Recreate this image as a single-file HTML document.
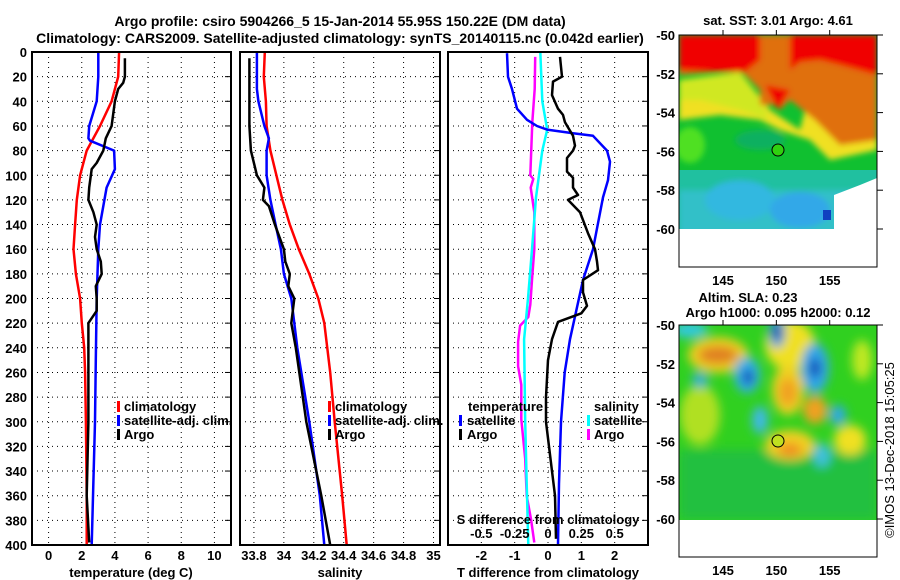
<!DOCTYPE html>
<html><head><meta charset="utf-8"><style>
body{margin:0;background:#fff;}
svg{display:block;font-family:"Liberation Sans",sans-serif;font-weight:bold;}
text{font-size:13px;fill:#000;}
</style></head><body>
<svg id="c" width="900" height="580" viewBox="0 0 900 580">
<defs>
<filter id="bl" x="-20%" y="-20%" width="140%" height="140%"><feGaussianBlur stdDeviation="3"/></filter>
<filter id="bl2" x="-30%" y="-30%" width="160%" height="160%"><feGaussianBlur stdDeviation="5"/></filter>
<clipPath id="cm1"><rect x="679" y="35" width="198" height="194"/></clipPath>
<clipPath id="cm2"><rect x="679" y="325" width="198" height="195"/></clipPath>
</defs>
<text x="340" y="26" text-anchor="middle" style="font-size:14px">Argo profile: csiro 5904266_5 15-Jan-2014 55.95S 150.22E (DM data)</text>
<text x="340" y="43" text-anchor="middle" style="font-size:14px">Climatology: CARS2009. Satellite-adjusted climatology: synTS_20140115.nc (0.042d earlier)</text>
<g id="grid"></g>
<g id="lines"></g>
<g id="frames"></g>
<g id="labels"></g>

<g>
<rect x="117" y="401" width="3" height="11" fill="#f00"/><text x="124" y="411">climatology</text>
<rect x="117" y="415" width="3" height="11" fill="#00f"/><text x="124" y="425">satellite-adj. clim.</text>
<rect x="117" y="429" width="3" height="11" fill="#000"/><text x="124" y="439">Argo</text>
</g>
<g>
<rect x="328" y="401" width="3" height="11" fill="#f00"/><text x="335" y="411">climatology</text>
<rect x="328" y="415" width="3" height="11" fill="#00f"/><text x="335" y="425">satellite-adj. clim.</text>
<rect x="328" y="429" width="3" height="11" fill="#000"/><text x="335" y="439">Argo</text>
</g>
<g>
<text x="468" y="411">temperature</text>
<rect x="459" y="415" width="3" height="11" fill="#00f"/><text x="467" y="425">satellite</text>
<rect x="459" y="429" width="3" height="11" fill="#000"/><text x="467" y="439">Argo</text>
<text x="594" y="411">salinity</text>
<rect x="587" y="415" width="3" height="11" fill="#0ff"/><text x="594" y="425">satellite</text>
<rect x="587" y="429" width="3" height="11" fill="#f0f"/><text x="594" y="439">Argo</text>
</g>

<g>
<text x="778" y="25" text-anchor="middle">sat. SST: 3.01 Argo: 4.61</text>
<g clip-path="url(#cm1)">
<rect x="679" y="35" width="198" height="194" fill="#10c030"/>
<rect x="679" y="170" width="198" height="65" fill="#20c0a0"/>
<g filter="url(#bl)">
<rect x="679" y="190" width="198" height="45" fill="#30c0c8"/>
<ellipse cx="740" cy="200" rx="35" ry="20" fill="#30b8e0"/>
<ellipse cx="800" cy="210" rx="30" ry="18" fill="#30a8e8"/>
<polygon points="679,80 740,72 770,110 800,130 812,80 877,85 877,150 830,160 810,140 780,130 760,120 720,115 679,120" fill="#f0e020"/>
<polygon points="679,80 740,72 760,100 770,120 740,110 700,100 679,100" fill="#d0e820"/>
<polygon points="679,35 877,35 877,140 840,145 815,120 790,100 780,110 765,95 740,70 679,75" fill="#e07010"/>
<polygon points="679,35 760,35 760,60 745,72 715,72 679,70" fill="#f00000"/>
<polygon points="790,35 877,35 877,75 840,65 820,60 800,62 790,70" fill="#f00000"/>
<rect x="760" y="35" width="25" height="70" fill="#e07010"/>
<polygon points="765,85 790,90 778,110" fill="#f00000"/>
<ellipse cx="690" cy="145" rx="15" ry="18" fill="#50e020"/>
<ellipse cx="760" cy="140" rx="25" ry="10" fill="#10b060"/>
</g>
<polygon points="834,229 834,195 860,185 877,178 877,229" fill="#fff"/>
<rect x="823" y="210" width="8" height="10" fill="#1040c0"/>
</g>
<rect x="679" y="229" width="198" height="38" fill="#fff"/>
<rect x="679" y="35" width="198" height="232" fill="none" stroke="#000" stroke-width="1"/>
<circle cx="778" cy="150" r="6" fill="#30d010" stroke="#000" stroke-width="1"/>
</g>

<g>
<text x="748" y="302" text-anchor="middle">Altim. SLA: 0.23</text>
<text x="778" y="317" text-anchor="middle">Argo h1000: 0.095 h2000: 0.12</text>
<g clip-path="url(#cm2)">
<rect x="679" y="325" width="198" height="195" fill="#30d020"/>
<g filter="url(#bl2)">
<rect x="679" y="450" width="198" height="70" fill="#20c040"/>
<ellipse cx="718" cy="355" rx="30" ry="18" fill="#f0d020"/>
<ellipse cx="718" cy="355" rx="20" ry="9" fill="#e08020"/>
<ellipse cx="790" cy="345" rx="25" ry="25" fill="#f0e020"/>
<ellipse cx="788" cy="390" rx="16" ry="25" fill="#f0d020"/>
<ellipse cx="788" cy="392" rx="9" ry="14" fill="#f0a020"/>
<ellipse cx="790" cy="445" rx="25" ry="15" fill="#f0d020"/>
<ellipse cx="790" cy="450" rx="12" ry="7" fill="#f09020"/>
<ellipse cx="815" cy="410" rx="12" ry="14" fill="#f0a020"/>
<ellipse cx="850" cy="440" rx="16" ry="15" fill="#f0e020"/>
<ellipse cx="862" cy="360" rx="10" ry="20" fill="#c0e820"/>
<ellipse cx="700" cy="415" rx="20" ry="30" fill="#b0e020"/>
<ellipse cx="690" cy="330" rx="18" ry="8" fill="#30c8e0"/>
<ellipse cx="747" cy="375" rx="13" ry="18" fill="#30b0e8"/>
<ellipse cx="748" cy="377" rx="5" ry="8" fill="#1030b0"/>
<ellipse cx="777" cy="332" rx="8" ry="16" fill="#30a0e8"/>
<ellipse cx="777" cy="332" rx="4" ry="8" fill="#102090"/>
<ellipse cx="815" cy="368" rx="14" ry="25" fill="#30a8e8"/>
<ellipse cx="815" cy="368" rx="5" ry="10" fill="#1030b0"/>
<ellipse cx="838" cy="415" rx="8" ry="10" fill="#30a8e8"/>
<ellipse cx="760" cy="420" rx="8" ry="14" fill="#40b8e8"/>
<ellipse cx="822" cy="455" rx="8" ry="12" fill="#40c0e0"/>
<ellipse cx="700" cy="380" rx="8" ry="8" fill="#30b0d0"/>
</g>
</g>
<rect x="679" y="520" width="198" height="37" fill="#fff"/>
<rect x="679" y="325" width="198" height="232" fill="none" stroke="#000" stroke-width="1"/>
<circle cx="778" cy="441" r="6" fill="#c0e020" stroke="#000" stroke-width="1"/>
</g>
<text transform="translate(894,450) rotate(-90)" text-anchor="middle" style="font-weight:normal;font-size:13px">©IMOS 13-Dec-2018 15:05:25</text>
<g id="maplabels"></g>
</svg>
<script>
var depthTicks=[0,20,40,60,80,100,120,140,160,180,200,220,240,260,280,300,320,340,360,380,400];
var tempTicks=[0,2,4,6,8,10];
var salTicks=[33.8,34,34.2,34.4,34.6,34.8,35];
var salTickLabels=["33.8","34","34.2","34.4","34.6","34.8","35"];
var tdiffTicks=[-2,-1,0,1,2];
var sdiffTicks=[-0.5,-0.25,0,0.25,0.5];
var latTicks=[-50,-52,-54,-56,-58,-60];
var lonTicks=[145,150,155];

var tempClimDepth=[0,20,40,60,80,100,120,140,160,180,200,220,240,260,300,360,400];
var tempClim=[4.25,4.2,3.8,3.1,2.3,1.9,1.7,1.6,1.5,1.65,1.9,2.0,2.15,2.2,2.25,2.3,2.3];
var tempSatDepth=[0,20,40,60,70,72,80,95,110,140,160,200,250,300,400];
var tempSat=[3.0,3.0,2.9,2.45,2.4,2.5,3.95,4.0,3.5,3.1,3.0,2.9,2.85,2.8,2.6];
var tempArgoDepth=[5,20,25,30,40,60,70,80,90,95,110,120,130,140,150,160,170,180,190,200,210,220,240,300,360,398];
var tempArgo=[4.6,4.6,4.5,4.2,4.0,3.8,3.45,3.3,2.9,2.6,2.45,2.4,2.7,2.9,2.8,2.9,3.15,3.2,2.85,2.9,2.9,2.4,2.4,2.4,2.3,2.45];

var salClimDepth=[0,20,40,60,80,100,120,140,160,180,200,220,260,300,360,400];
var salClim=[33.873,33.866,33.88,33.885,33.91,33.95,33.99,34.04,34.1,34.17,34.23,34.27,34.31,34.34,34.39,34.42];
var salSatDepth=[0,20,30,40,60,70,80,100,120,140,160,180,200,220,240,300,360,400];
var salSat=[33.82,33.82,33.82,33.83,33.87,33.9,33.885,33.885,33.91,33.945,33.98,34.0,34.05,34.07,34.09,34.17,34.24,34.27];
var salArgoDepth=[5,20,60,80,90,100,110,120,125,140,150,160,170,180,190,200,220,240,300,360,400];
var salArgo=[33.77,33.77,33.77,33.78,33.8,33.82,33.87,33.86,33.9,33.94,33.97,34.0,34.01,34.04,34.03,34.07,34.05,34.08,34.15,34.25,34.31];

var tdSatDepth=[1,20,30,46,55,60,63,66,68,80,89,104,118,160,185,233,260,300,350,400];
var tdSat=[-1.23,-1.2,-1.08,-0.93,-0.63,-0.33,-0.03,0.75,1.35,1.77,1.86,1.8,1.65,1.35,1.05,0.66,0.5,0.39,0.33,0.3];
var tdArgoDepth=[4,20,24,35,46,51,57,68,76,80,86,97,102,110,116,120,130,147,160,170,177,185,195,206,212,219,233,250,280,300,340,360,395];
var tdArgo=[0.36,0.42,0.15,0.12,0.3,0.45,0.51,0.75,0.81,0.75,0.57,0.57,0.75,0.75,0.9,0.6,0.96,1.2,1.41,1.47,1.5,1.05,1.05,1.17,1.0,0.3,0.12,0,-0.06,-0.06,0.12,0.21,0.24];
var sdSatDepth=[0,40,63,80,118,160,200,233,300,350,400];
var sdSat=[-0.058,-0.043,-0.006,-0.043,-0.09,-0.12,-0.15,-0.179,-0.171,-0.16,-0.148];
var sdArgoDepth=[4,30,57,100,103,110,130,160,185,205,215,222,235,255,270,298,330,360,380,398];
var sdArgo=[-0.096,-0.1,-0.118,-0.133,-0.11,-0.13,-0.103,-0.103,-0.12,-0.133,-0.148,-0.209,-0.224,-0.224,-0.2,-0.2,-0.171,-0.16,-0.126,-0.103];

var Y0=52,Y1=545;
function yD(d){return Y0+(Y1-Y0)*d/400;}
function lin(a,b,p,q){return function(v){return p+(v-a)*(q-p)/(b-a);};}
var panels=[{x0:32,x1:231,fx:lin(-1,11,32,231)},{x0:240,x1:440,fx:lin(33.707,35.05,240,441)},{x0:448,x1:648,fx:lin(-3,3,448,648)}];
var xS=lin(-0.75,0.75,448,648);
var NS="http://www.w3.org/2000/svg";
function mk(tag,attrs,parent){var e=document.createElementNS(NS,tag);for(var k in attrs)e.setAttribute(k,attrs[k]);parent.appendChild(e);return e;}
var G=document.getElementById('grid'),L=document.getElementById('lines'),F=document.getElementById('frames'),T=document.getElementById('labels'),ML=document.getElementById('maplabels');

function vgrid(px){var l=mk('line',{x1:px,x2:px,y1:Y0,y2:Y1,stroke:'#000','stroke-width':1,'stroke-dasharray':'1,4'},G);

}
panels.forEach(function(p,i){
  depthTicks.forEach(function(d){
    var l=mk('line',{x1:p.x0,x2:p.x1,y1:yD(d),y2:yD(d),stroke:'#000','stroke-width':1,'stroke-dasharray':'1,4'},G);
    
    
    var t=mk('line',{x1:p.x1-6,x2:p.x1,y1:yD(d),y2:yD(d),stroke:'#000','stroke-width':1},G);
    
    
  });
  var r=mk('rect',{x:p.x0,y:Y0,width:p.x1-p.x0,height:Y1-Y0,fill:'none',stroke:'#000','stroke-width':2},F);
  
  
});
tempTicks.forEach(function(v){var x=panels[0].fx(v);vgrid(x);
  var t=mk('text',{x:x,y:560,'text-anchor':'middle'},T);t.textContent=v;
  
  });
salTicks.forEach(function(v,i){var x=panels[1].fx(v);vgrid(x);
  var t=mk('text',{x:x,y:560,'text-anchor':'middle'},T);t.textContent=salTickLabels[i];
  
  });
tdiffTicks.forEach(function(v){var x=panels[2].fx(v);vgrid(x);
  var t=mk('text',{x:x,y:560,'text-anchor':'middle'},T);t.textContent=v;
  
  });
sdiffTicks.forEach(function(v){var t=mk('text',{x:xS(v),y:538,'text-anchor':'middle'},T);t.textContent=v;
  
  });
depthTicks.forEach(function(d){var t=mk('text',{x:27,y:yD(d)+5,'text-anchor':'end'},T);t.textContent=d;
  
  });
[["temperature (deg C)",131],["salinity",340],["T difference from climatology",548]].forEach(function(a){
  var t=mk('text',{x:a[1],y:577,'text-anchor':'middle'},T);t.textContent=a[0];
  
  });
var st=mk('text',{x:548,y:524,'text-anchor':'middle'},T);st.textContent="S difference from climatology";



function series(xf,vals,deps,color,name){
  var pts=vals.map(function(v,i){return xf(v).toFixed(1)+','+yD(deps[i]).toFixed(1);}).join(' ');
  var p=mk('polyline',{points:pts,fill:'none',stroke:color,'stroke-width':2.5,'stroke-linejoin':'round'},L);
  
  
}
series(panels[0].fx,tempClim,tempClimDepth,'#f00','temperature-climatology-line');
series(panels[0].fx,tempSat,tempSatDepth,'#00f','temperature-satellite-line');
series(panels[0].fx,tempArgo,tempArgoDepth,'#000','temperature-argo-line');
series(panels[1].fx,salClim,salClimDepth,'#f00','salinity-climatology-line');
series(panels[1].fx,salSat,salSatDepth,'#00f','salinity-satellite-line');
series(panels[1].fx,salArgo,salArgoDepth,'#000','salinity-argo-line');
series(xS,sdArgo,sdArgoDepth,'#f0f','s-diff-argo-line');
series(xS,sdSat,sdSatDepth,'#0ff','s-diff-satellite-line');
series(panels[2].fx,tdSat,tdSatDepth,'#00f','t-diff-satellite-line');
series(panels[2].fx,tdArgo,tdArgoDepth,'#000','t-diff-argo-line');

function latY1(l){return 35+(-50-l)*19.4;}
function lonX(l){return 723+(l-145)*10.67;}
[[0,latY1],[290,latY1]].forEach(function(m){
  latTicks.forEach(function(l){var y=m[1](l)+m[0];
    var t=mk('text',{x:675,y:y+5,'text-anchor':'end'},ML);t.textContent=l;
    
    
    var k=mk('line',{x1:877,x2:883,y1:y,y2:y,stroke:'#000'},ML);
    
    });
  lonTicks.forEach(function(l){
    var t=mk('text',{x:lonX(l),y:m[0]+285,'text-anchor':'middle'},ML);t.textContent=l;
    
    
    var k=mk('line',{x1:lonX(l),x2:lonX(l),y1:m[0]+30,y2:m[0]+35,stroke:'#000'},ML);
    
    });
});
</script>
</body></html>
